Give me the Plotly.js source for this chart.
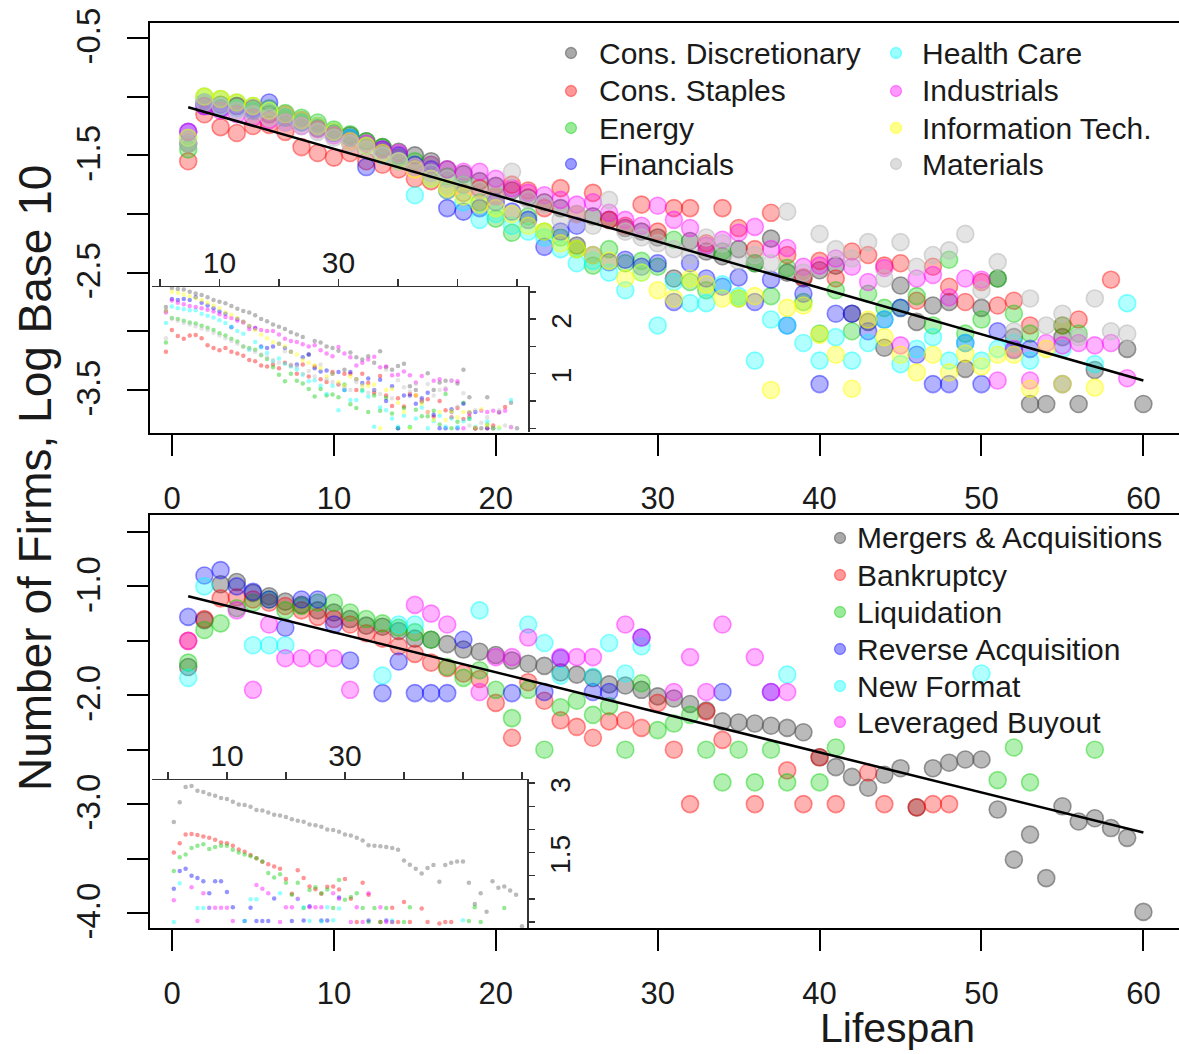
<!DOCTYPE html>
<html><head><meta charset="utf-8">
<script src="https://cdn.plot.ly/plotly-3.0.1.min.js"></script>
<style>html,body{margin:0;padding:0;background:#fff}#chart{width:1179px;height:1054px}</style>
</head><body><div id="chart"></div>
<script>
const lifespan = [1,2,3,4,5,6,7,8,9,10,11,12,13,14,15,16,17,18,19,20,21,22,23,24,25,26,27,28,29,30,
  31,32,33,34,35,36,37,38,39,40,41,42,43,44,45,46,47,48,49,50,51,52,53,54,55,56,57,58,59,60];
const xTicks = [0,10,20,30,40,50,60];

// ---- Top panel: log10 share of firms by sector ----
const sectorNames = ['Cons. Discretionary','Cons. Staples','Energy','Financials','Health Care','Industrials','Information Tech.','Materials'];
const sectorLogTotals = [3.62, 2.95, 3.02, 3.45, 3.28, 3.42, 3.50, 3.05];
const topConsDisc = [
-1.40,-1.05,-1.07,-1.08,-1.12,-1.15,-1.18,-1.22,-1.27,-1.30,
-1.33,-1.38,-1.43,-1.47,-1.50,-1.55,-1.62,-1.66,-1.72,-1.76,
-1.80,-1.86,-1.90,-1.95,-2.27,-2.02,-2.05,-2.12,-2.15,-2.20,
-2.55,-2.23,-2.32,-2.36,-2.30,-2.42,-2.21,-2.50,-2.55,-2.48,
-2.44,-2.85,-2.92,-3.14,-2.61,-2.92,-2.78,-2.75,-3.32,-2.80,
-2.55,-3.05,-3.62,-3.62,-3.05,-3.62,-3.33,null,-3.15,-3.62];
const topConsStaples = [
-1.55,-1.15,-1.26,-1.31,-1.25,-1.24,-1.30,-1.43,-1.48,-1.52,
-1.48,-1.55,-1.58,-1.62,-1.70,-1.72,-1.80,-1.82,-1.78,-1.85,
-1.75,-1.80,-1.95,-1.78,-2.00,-1.82,-2.05,-2.10,-1.92,-2.15,
-1.95,-1.95,-2.25,-1.95,-2.12,-2.30,-1.99,-2.35,-2.54,-2.40,
-2.55,-2.32,-2.35,-2.44,-2.42,-2.74,-2.45,-2.62,-2.75,-2.58,
-2.78,-2.74,-2.95,null,-2.95,-2.90,null,-2.56,null,null];
const topEnergy = [
-1.45,-1.00,-1.02,-1.05,-1.08,-1.10,-1.14,-1.18,-1.22,-1.28,
-1.32,-1.38,-1.43,-1.52,-1.55,-1.58,-1.68,-1.75,-1.90,-2.04,
-2.16,-2.02,-2.15,-2.20,-2.30,-2.44,-2.30,-2.42,-2.40,-2.45,
-2.22,-2.58,-2.65,-2.32,-2.72,-2.42,-2.70,-2.46,-2.75,-3.02,
-2.65,-3.00,-2.68,-2.80,-2.80,-2.70,-2.95,-2.39,-3.02,-2.90,
-2.55,-2.85,-3.02,null,-2.95,-3.02,null,null,null,null];
const topFinancials = [
-1.30,-1.08,-1.10,-1.08,-1.10,-1.05,-1.15,-1.20,-1.25,-1.31,
-1.35,-1.60,-1.45,-1.50,-1.58,-1.62,-1.95,-1.98,-1.95,-1.90,
-1.98,-2.05,-2.28,-2.15,-2.10,-2.35,-2.41,-2.39,-2.45,-2.42,
-2.75,-2.42,-2.55,-2.62,-2.54,-2.75,-2.56,-2.95,-2.68,-3.45,
-2.85,-2.85,-3.00,-2.90,-2.80,-3.20,-3.45,-3.45,-3.10,-3.45,
-3.00,-3.16,-3.15,null,-3.45,null,null,null,null,null];
const topHealthCare = [
-1.35,-1.05,-1.08,-1.10,-1.12,-1.12,-1.18,-1.22,-1.25,-1.30,
-1.35,-1.42,-1.50,-1.55,-1.84,-1.70,-1.80,-1.90,-2.05,-2.00,
-2.10,-2.15,-2.20,-2.30,-2.42,-2.40,-2.50,-2.65,-2.50,-2.95,
-2.58,-2.76,-2.76,-2.60,-2.70,-3.25,-2.90,-2.95,-3.10,-3.25,
-3.05,-3.25,-3.10,-2.90,-3.28,-3.15,-3.05,-3.25,-3.10,-3.25,
-3.15,-3.10,-3.25,null,-3.15,null,-3.28,null,-2.76,null];
const topIndustrials = [
-1.30,-1.08,-1.12,-1.15,-1.18,-1.20,-1.22,-1.25,-1.28,-1.33,
-1.38,-1.40,-1.45,-1.48,-1.60,-1.58,-1.62,-1.64,-1.64,-1.70,
-1.78,-1.82,-1.84,-1.88,-1.92,-1.90,-1.99,-2.05,-2.10,-1.93,
-2.05,-2.12,-2.27,-2.22,-2.16,-2.11,-2.30,-2.29,-2.45,-2.44,
-2.38,-2.45,-2.58,-2.46,-3.12,-2.55,-2.52,-2.71,-2.55,-2.56,
-3.42,-3.15,-3.42,-3.10,-3.12,-3.10,-3.12,-3.10,-3.40,null];
const topInfoTech = [
-1.35,-1.00,-1.02,-1.05,-1.08,-1.12,-1.15,-1.20,-1.25,-1.30,
-1.38,-1.42,-1.48,-1.55,-1.62,-1.70,-1.78,-1.85,-1.92,-1.95,
-2.00,-2.10,-2.15,-2.25,-2.30,-2.35,-2.40,-2.55,-2.50,-2.65,
-2.72,-2.55,-2.60,-2.72,-2.72,-2.70,-3.50,-2.80,-2.78,-3.03,
-3.20,-3.49,-2.90,-3.05,-3.20,-3.35,-3.20,-3.35,-3.19,-3.30,
-3.20,-3.20,-3.49,-3.15,-3.45,null,-3.48,null,null,null];
const topMaterials = [
-1.40,-1.05,-1.08,-1.12,-1.15,-1.18,-1.22,-1.25,-1.30,-1.35,
-1.40,-1.45,-1.50,-1.55,-1.60,-1.65,-1.70,-1.75,-1.80,-1.85,
-1.64,-1.88,-1.92,-2.05,-2.00,-2.10,-1.88,-2.15,-2.20,-2.25,
-2.30,-2.35,-2.20,-2.25,-2.40,-2.35,-2.42,-1.98,-2.50,-2.17,
-2.30,-2.38,-2.24,-2.55,-2.24,-2.45,-2.35,-2.31,-2.17,-2.65,
-2.41,-3.00,-2.72,-2.95,-2.85,-3.05,-2.72,-3.00,-3.02,null];

// ---- Bottom panel: log10 share of firms by exit type ----
const exitNames = ['Mergers & Acquisitions','Bankruptcy','Liquidation','Reverse Acquisition','New Format','Leveraged Buyout'];
const exitLogTotals = [3.90, 3.00, 2.80, 2.00, 1.84, 1.97];
const botMergers = [
-1.74,-1.31,-0.98,-0.96,-1.06,-1.09,-1.14,-1.17,-1.22,-1.24,
-1.30,-1.36,-1.37,-1.41,-1.48,-1.49,-1.53,-1.58,-1.60,-1.63,
-1.68,-1.71,-1.73,-1.79,-1.81,-1.84,-1.90,-1.91,-1.95,-2.01,
-2.03,-2.08,-2.14,-2.24,-2.25,-2.26,-2.28,-2.30,-2.34,-2.57,
-2.66,-2.75,-2.85,-2.73,-2.67,-3.03,-2.67,-2.62,-2.59,-2.59,
-3.05,-3.51,-3.28,-3.68,-3.02,-3.16,-3.13,-3.22,-3.31,-3.99];
const botBankruptcy = [
-1.50,-1.30,-1.11,-1.10,-1.12,-1.15,-1.18,-1.22,-1.28,-1.30,
-1.35,-1.43,-1.48,-1.55,-1.62,-1.70,-1.75,-1.80,-1.85,-2.07,
-2.39,-1.88,-2.05,-2.23,-2.29,-2.39,-2.24,-2.23,-2.30,-2.07,
-2.50,-3.00,-2.15,-2.41,null,-3.00,null,-2.69,-3.00,-2.57,
-3.00,null,-2.71,-3.00,null,-3.03,-3.00,-3.00,null,null,
null,null,null,null,null,null,null,null,null,null];
const botLiquidation = [
-1.70,-1.40,-1.34,-1.20,-1.15,-1.12,-1.22,-1.18,-1.15,-1.15,
-1.24,-1.30,-1.34,-1.38,-1.42,-1.49,-1.74,-1.84,-1.77,-1.95,
-2.21,-1.95,-2.50,-2.11,-2.05,-2.18,-2.10,-2.50,-1.89,-2.32,
-2.26,-2.18,-2.50,-2.80,-2.50,-2.80,-2.50,-2.80,null,-2.80,
-2.48,null,null,null,null,null,null,null,null,null,
-2.78,-2.48,-2.80,null,null,null,-2.50,null,null,null];
const botReverse = [
-1.28,-0.90,-0.85,-1.00,-1.05,-1.12,-1.38,-1.12,-1.12,-1.35,
-1.68,null,-1.98,-1.69,-1.98,-1.98,-1.98,-1.49,null,null,
-1.98,null,-1.97,-1.66,null,-1.97,-1.97,null,-1.47,null,
null,null,null,-1.97,null,null,-1.97,null,null,null,
null,null,null,null,null,null,null,null,null,null,
null,null,null,null,null,null,null,null,null,null];
const botNewFormat = [
-1.84,-1.00,null,null,-1.54,-1.54,-1.54,null,null,null,
null,null,-1.82,-1.35,-1.35,null,null,null,-1.22,null,
null,-1.35,-1.52,-1.82,null,-1.83,-1.52,-1.80,-1.55,null,
null,null,null,null,null,null,null,-1.81,null,null,
null,null,null,null,null,null,null,null,null,-1.80,
null,null,null,null,null,null,null,null,null,null];
const botLBO = [
-1.50,null,null,-1.22,-1.95,-1.35,-1.66,-1.66,-1.66,-1.66,
-1.95,null,null,null,-1.17,-1.25,-1.35,null,-1.97,-1.65,
-1.65,-1.47,null,-1.65,-1.65,-1.65,null,-1.35,-1.47,null,
-1.97,-1.65,-1.97,-1.35,null,-1.65,-1.97,-1.97,null,null,
null,null,null,null,null,null,null,null,null,null,
null,null,null,null,null,null,null,null,null,null];

// fitted regression lines (end points)
const fitX = [1, 60];
const fitTop = [-1.09, -3.42];
const fitBottom = [-1.09, -3.26];

// ---- styling ----
const FONT = 'Liberation Sans, Arial, Helvetica, sans-serif';
const TXT = '#1a1a1a';
// [r,g,b, fillAlpha, lineAlpha]
const topColors = [[90,90,90,0.42,0.6],[255,0,0,0.3,0.42],[0,205,0,0.3,0.42],[0,0,255,0.3,0.42],
                   [0,255,255,0.3,0.45],[255,0,255,0.3,0.42],[255,255,0,0.35,0.5],[190,190,190,0.42,0.6]];
const botColors = [[90,90,90,0.42,0.6],[255,0,0,0.3,0.42],[0,205,0,0.3,0.42],[0,0,255,0.3,0.42],
                   [0,255,255,0.3,0.45],[255,0,255,0.3,0.42]];
const rgba = (c,a) => 'rgba('+c[0]+','+c[1]+','+c[2]+','+a+')';

const topSeries = [topConsDisc, topConsStaples, topEnergy, topFinancials, topHealthCare, topIndustrials, topInfoTech, topMaterials];
const botSeries = [botMergers, botBankruptcy, botLiquidation, botReverse, botNewFormat, botLBO];

const traces = [];
function mainTrace(name, y, c, xa, ya){
  return {type:'scatter', mode:'markers', name:name, x:lifespan, y:y, xaxis:xa, yaxis:ya, showlegend:false,
    hoverinfo:'skip', marker:{size:17, color:rgba(c,c[3]), line:{width:1.6, color:rgba(c,c[4])}}};
}
function insetTrace(name, y, logTotal, c, xa, ya){
  // inset: log10 number of firms = log10 share + log10 total firms
  return {type:'scatter', mode:'markers', name:name, x:lifespan,
    y:y.map(v => v === null ? null : v + logTotal), xaxis:xa, yaxis:ya, showlegend:false,
    hoverinfo:'skip', marker:{size:4.5, color:rgba(c,0.42), line:{width:0}}};
}
sectorNames.forEach((n,i) => traces.push(mainTrace(n, topSeries[i], topColors[i], 'x', 'y')));
traces.push({type:'scatter', mode:'lines', x:fitX, y:fitTop, xaxis:'x', yaxis:'y', showlegend:false, hoverinfo:'skip', line:{color:'#000', width:2.5}});
exitNames.forEach((n,i) => traces.push(mainTrace(n, botSeries[i], botColors[i], 'x2', 'y2')));
traces.push({type:'scatter', mode:'lines', x:fitX, y:fitBottom, xaxis:'x2', yaxis:'y2', showlegend:false, hoverinfo:'skip', line:{color:'#000', width:2.5}});
sectorNames.forEach((n,i) => traces.push(insetTrace(n, topSeries[i], sectorLogTotals[i], topColors[i], 'x3', 'y3')));
exitNames.forEach((n,i) => traces.push(insetTrace(n, botSeries[i], exitLogTotals[i], botColors[i], 'x4', 'y4')));

const W = 1179, H = 1054;
const px = v => v / W, py = v => 1 - v / H;

const mainX = (anchor) => ({domain:[px(150), 1], range:[-1.36, 62.2], anchor:anchor,
  tickmode:'array', tickvals:xTicks, ticktext:xTicks.map(String), ticks:'outside', ticklen:21, tickwidth:2, tickcolor:'#000',
  showline:true, mirror:true, linewidth:2, linecolor:'#000', showgrid:false, zeroline:false,
  tickfont:{size:31, family:FONT, color:TXT}, ticklabelstandoff:16});
const mainY = (anchor, dom, rng, vals, txt) => ({domain:dom, range:rng, anchor:anchor,
  tickmode:'array', tickvals:vals, ticktext:txt, tickangle:-90, ticks:'outside', ticklen:21, tickwidth:2, tickcolor:'#000',
  showline:true, linewidth:2, linecolor:'#000', showgrid:false, zeroline:false,
  tickfont:{size:33, family:FONT, color:TXT}, ticklabelstandoff:14, ticklabelshift:3});
const insetX = (anchor, dom, rng) => ({domain:dom, range:rng, anchor:anchor, side:'top',
  tickmode:'array', tickvals:xTicks, ticktext:['','10','','30','','',''], ticks:'outside', ticklen:7, tickwidth:1.5, tickcolor:'#333',
  showline:true, linewidth:1.5, linecolor:'#333', showgrid:false, zeroline:false,
  tickfont:{size:30, family:FONT, color:TXT}, ticklabelstandoff:-6});
const insetY = (anchor, dom, rng, vals, txt) => ({domain:dom, range:rng, anchor:anchor, side:'right',
  tickmode:'array', tickvals:vals, ticktext:txt, tickangle:-90, ticks:'outside', ticklen:6, tickwidth:1.5, tickcolor:'#333',
  showline:true, linewidth:1.5, linecolor:'#333', showgrid:false, zeroline:false,
  tickfont:{size:28, family:FONT, color:TXT}, ticklabelstandoff:2, ticklabelshift:6});

// ---- legends (text as annotations, keys as small circles) ----
const annotations = [
  {text:'Number of Firms, Log Base 10', xref:'paper', yref:'paper', x:px(35), y:py(478), textangle:-90,
   showarrow:false, xanchor:'center', yanchor:'middle', font:{size:46, family:FONT, color:TXT}},
  {text:'Lifespan', xref:'paper', yref:'paper', x:px(897), y:py(1028),
   showarrow:false, xanchor:'center', yanchor:'middle', font:{size:41, family:FONT, color:TXT}}
];
const shapes = [];
function legendEntry(name, c, symX, textX, rowY){
  annotations.push({text:name, xref:'paper', yref:'paper', x:px(textX), y:py(rowY), showarrow:false,
    xanchor:'left', yanchor:'middle', font:{size:30, family:FONT, color:TXT}});
  shapes.push({type:'circle', xref:'paper', yref:'paper', x0:px(symX-5.5), x1:px(symX+5.5), y0:py(rowY+5.5), y1:py(rowY-5.5),
    fillcolor:rgba(c, c[3]+0.1), line:{color:rgba(c, c[4]), width:1.3}});
}
const topRows = [53, 91, 128, 164];
sectorNames.forEach((n,i) => {
  if (i < 4) legendEntry(n, topColors[i], 571, 597, topRows[i]);
  else legendEntry(n, topColors[i], 896, 920, topRows[i-4]);
});
const botRows = [538, 575, 612, 649, 686, 722];
exitNames.forEach((n,i) => legendEntry(n, botColors[i], 840, 855, botRows[i]));

const layout = {
  width:W, height:H, margin:{l:0, r:0, t:0, b:0},
  paper_bgcolor:'#fff', plot_bgcolor:'#fff', font:{family:FONT, color:TXT},
  showlegend:false,
  xaxis: mainX('y'),
  yaxis: mainY('x', [py(433), py(23)], [-3.867, -0.372],
    [-3.5,-3.0,-2.5,-2.0,-1.5,-1.0,-0.5], ['-3.5','','-2.5','','-1.5','','-0.5']),
  xaxis2: mainX('y2'),
  yaxis2: mainY('x2', [py(928), py(515)], [-4.138, -0.344],
    [-4.0,-3.5,-3.0,-2.5,-2.0,-1.5,-1.0,-0.5], ['-4.0','','-3.0','','-2.0','','-1.0','']),
  xaxis3: insetX('y3', [px(152), px(528)], [-1.34, 61.85]),
  yaxis3: insetY('x3', [py(432), py(287)], [-0.068, 2.588], [0,0.5,1,1.5,2,2.5], ['','','1','','2','']),
  xaxis4: insetX('y4', [px(152), px(527)], [-2.7, 60.85]),
  yaxis4: insetY('x4', [py(928), py(780)], [-0.13, 3.07], [0,0.5,1,1.5,2,2.5,3], ['','','','1.5','','','3']),
  annotations: annotations,
  shapes: shapes
};
Plotly.newPlot('chart', traces, layout, {staticPlot:true, displayModeBar:false});
</script></body></html>
